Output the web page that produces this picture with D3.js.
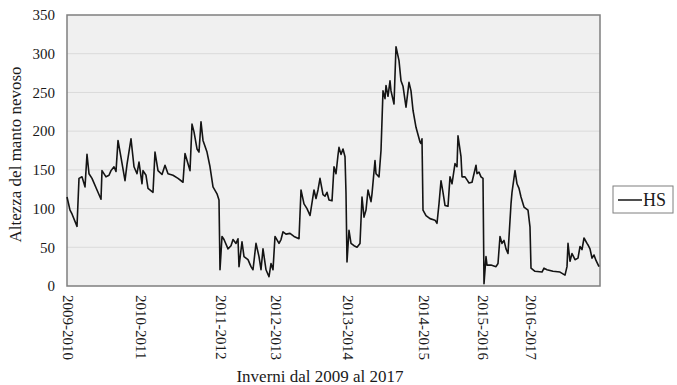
<!DOCTYPE html>
<html>
<head>
<meta charset="utf-8">
<script src="https://cdn.jsdelivr.net/npm/d3@7"></script>
<style>
  html, body { margin: 0; padding: 0; background: #ffffff; }
  svg { display: block; }
  text { font-family: "Liberation Serif", "DejaVu Serif", serif; fill: #1a1a1a; }
</style>
</head>
<body>
<svg id="chart" width="677" height="385"></svg>
<script>
// Winter seasons and the day index at which each one begins
const winters = ["2009-2010", "2010-2011", "2011-2012", "2012-2013",
                 "2013-2014", "2014-2015", "2015-2016", "2016-2017"];
const winterStart = [0, 73, 153, 208, 280, 356, 415, 463];
const totalDays = 533;

// Snow depth (HS, cm) sampled along the day index
const days = [0, 3, 5, 10, 12, 15, 18, 20, 22, 25, 30, 34, 35, 39, 42, 44, 47, 49, 51, 54,
  58, 60, 64, 67, 70, 72, 75, 76, 79, 81, 86, 88, 91, 95, 98, 101, 106, 111, 116, 118,
  121, 123, 125, 127, 130, 132, 134, 136, 140, 143, 146, 150, 152, 153, 155, 157, 161, 164, 166, 169,
  171, 172, 175, 177, 181, 184, 186, 189, 192, 194, 196, 199, 202, 204, 206, 208, 212, 214, 216, 219,
  223, 227, 232, 234, 237, 240, 243, 247, 249, 251, 253, 256, 258, 260, 262, 265, 267, 269, 271, 272,
  274, 276, 278, 279, 280, 282, 284, 287, 290, 293, 295, 297, 299, 301, 304, 305, 308, 309, 312, 314,
  316, 318, 319, 321, 323, 324, 327, 329, 332, 334, 336, 339, 342, 344, 346, 349, 353, 354, 355, 356,
  359, 363, 368, 370, 372, 374, 376, 378, 381, 383, 385, 388, 390, 391, 394, 395, 398, 400, 402, 405,
  407, 409, 410, 412, 414, 416, 417, 419, 420, 424, 429, 431, 433, 435, 437, 439, 441, 444, 445, 448,
  450, 452, 454, 457, 459, 461, 463, 464, 468, 475, 477, 480, 486, 493, 498, 500, 501, 503, 505, 508,
  511, 513, 515, 517, 520, 521, 523, 525, 527, 529, 532];
const hs = [115, 98, 93, 77, 139, 141, 128, 170, 145, 139, 124, 112, 149, 141, 143, 149, 154, 148, 188, 166,
  136, 157, 190, 154, 145, 160, 132, 149, 143, 126, 121, 173, 149, 144, 156, 145, 143, 139, 134, 171,
  158, 149, 209, 199, 177, 173, 212, 188, 173, 154, 128, 119, 111, 21, 64, 60, 48, 52, 60, 55,
  61, 25, 57, 38, 34, 25, 21, 55, 38, 21, 48, 21, 12, 29, 21, 64, 55, 60, 70, 67,
  68, 64, 61, 124, 106, 100, 91, 124, 113, 124, 139, 118, 116, 121, 111, 110, 154, 145, 169, 179,
  170, 177, 167, 120, 31, 72, 55, 52, 50, 55, 115, 89, 98, 124, 109, 119, 162, 145, 141, 175,
  252, 242, 259, 245, 265, 252, 235, 309, 291, 265, 258, 231, 263, 252, 227, 205, 186, 184, 190, 98,
  91, 87, 85, 81, 106, 136, 121, 104, 103, 141, 132, 158, 154, 194, 167, 141, 141, 137, 133, 134,
  145, 156, 145, 147, 141, 139, 3, 38, 27, 27, 25, 29, 64, 55, 59, 48, 42, 106, 121, 149,
  132, 126, 115, 102, 100, 98, 76, 23, 19, 18, 23, 21, 19, 18, 14, 25, 55, 32, 42, 34,
  36, 51, 47, 62, 55, 53, 48, 36, 40, 33, 25];

const yTicks = [0, 50, 100, 150, 200, 250, 300, 350];
const seriesName = "HS";

const svg = d3.select("#chart");
const plot = { left: 67, right: 600, top: 15, bottom: 286 };

const x = d3.scaleLinear().domain([0, totalDays]).range([plot.left, plot.right]);
const y = d3.scaleLinear().domain([0, 350]).range([plot.bottom, plot.top]);

// plot area background
svg.append("rect")
  .attr("x", plot.left).attr("y", plot.top)
  .attr("width", plot.right - plot.left).attr("height", plot.bottom - plot.top)
  .attr("fill", "#f0f0f0");

// horizontal gridlines
svg.append("g")
  .selectAll("line")
  .data(yTicks.filter(d => d > 0 && d < 350))
  .join("line")
  .attr("x1", plot.left).attr("x2", plot.right)
  .attr("y1", d => y(d)).attr("y2", d => y(d))
  .attr("stroke", "#dadada").attr("stroke-width", 1);

// y axis labels
const yAxis = d3.axisLeft(y).tickValues(yTicks).tickSize(0).tickPadding(12);
svg.append("g")
  .attr("transform", `translate(${plot.left},0)`)
  .call(yAxis)
  .call(g => g.select(".domain").remove())
  .selectAll("text")
  .style("font-family", "'Liberation Serif', serif")
  .style("font-size", "15px")
  .attr("fill", "#1a1a1a");

// x axis: winter labels, rotated
const xAxis = d3.axisBottom(x).tickValues(winterStart)
  .tickFormat((d, i) => winters[i]).tickSize(0);
svg.append("g")
  .attr("transform", `translate(0,${plot.bottom})`)
  .call(xAxis)
  .call(g => g.select(".domain").remove())
  .selectAll("text")
  .style("font-family", "'Liberation Serif', serif")
  .style("font-size", "15px")
  .attr("fill", "#1a1a1a")
  .attr("text-anchor", "start")
  .attr("transform", "rotate(90)")
  .attr("x", 9)
  .attr("y", 0)
  .attr("dy", "0.32em");

// plot frame
svg.append("rect")
  .attr("x", plot.left).attr("y", plot.top)
  .attr("width", plot.right - plot.left).attr("height", plot.bottom - plot.top)
  .attr("fill", "none").attr("stroke", "#7f7f7f").attr("stroke-width", 1.5);

// HS series
const line = d3.line().x((d, i) => x(days[i])).y(d => y(d));
svg.append("path")
  .datum(hs)
  .attr("d", line)
  .attr("fill", "none")
  .attr("stroke", "#141414")
  .attr("stroke-width", 1.6)
  .attr("stroke-linejoin", "round");

// axis titles
svg.append("text")
  .attr("transform", `translate(21,${(plot.top + plot.bottom) / 2 + 4}) rotate(-90)`)
  .attr("text-anchor", "middle")
  .style("font-size", "17px")
  .text("Altezza del manto nevoso");

svg.append("text")
  .attr("x", 320).attr("y", 382)
  .attr("text-anchor", "middle")
  .style("font-size", "17px")
  .text("Inverni dal 2009 al 2017");

// legend
const legend = svg.append("g").attr("transform", "translate(613,186)");
legend.append("rect")
  .attr("width", 60).attr("height", 27)
  .attr("fill", "#ffffff").attr("stroke", "#7f7f7f").attr("stroke-width", 1);
legend.append("line")
  .attr("x1", 5).attr("x2", 29).attr("y1", 14).attr("y2", 14)
  .attr("stroke", "#141414").attr("stroke-width", 1.5);
legend.append("text")
  .attr("x", 30).attr("y", 20)
  .style("font-size", "18px")
  .text(seriesName);
</script>
</body>
</html>
